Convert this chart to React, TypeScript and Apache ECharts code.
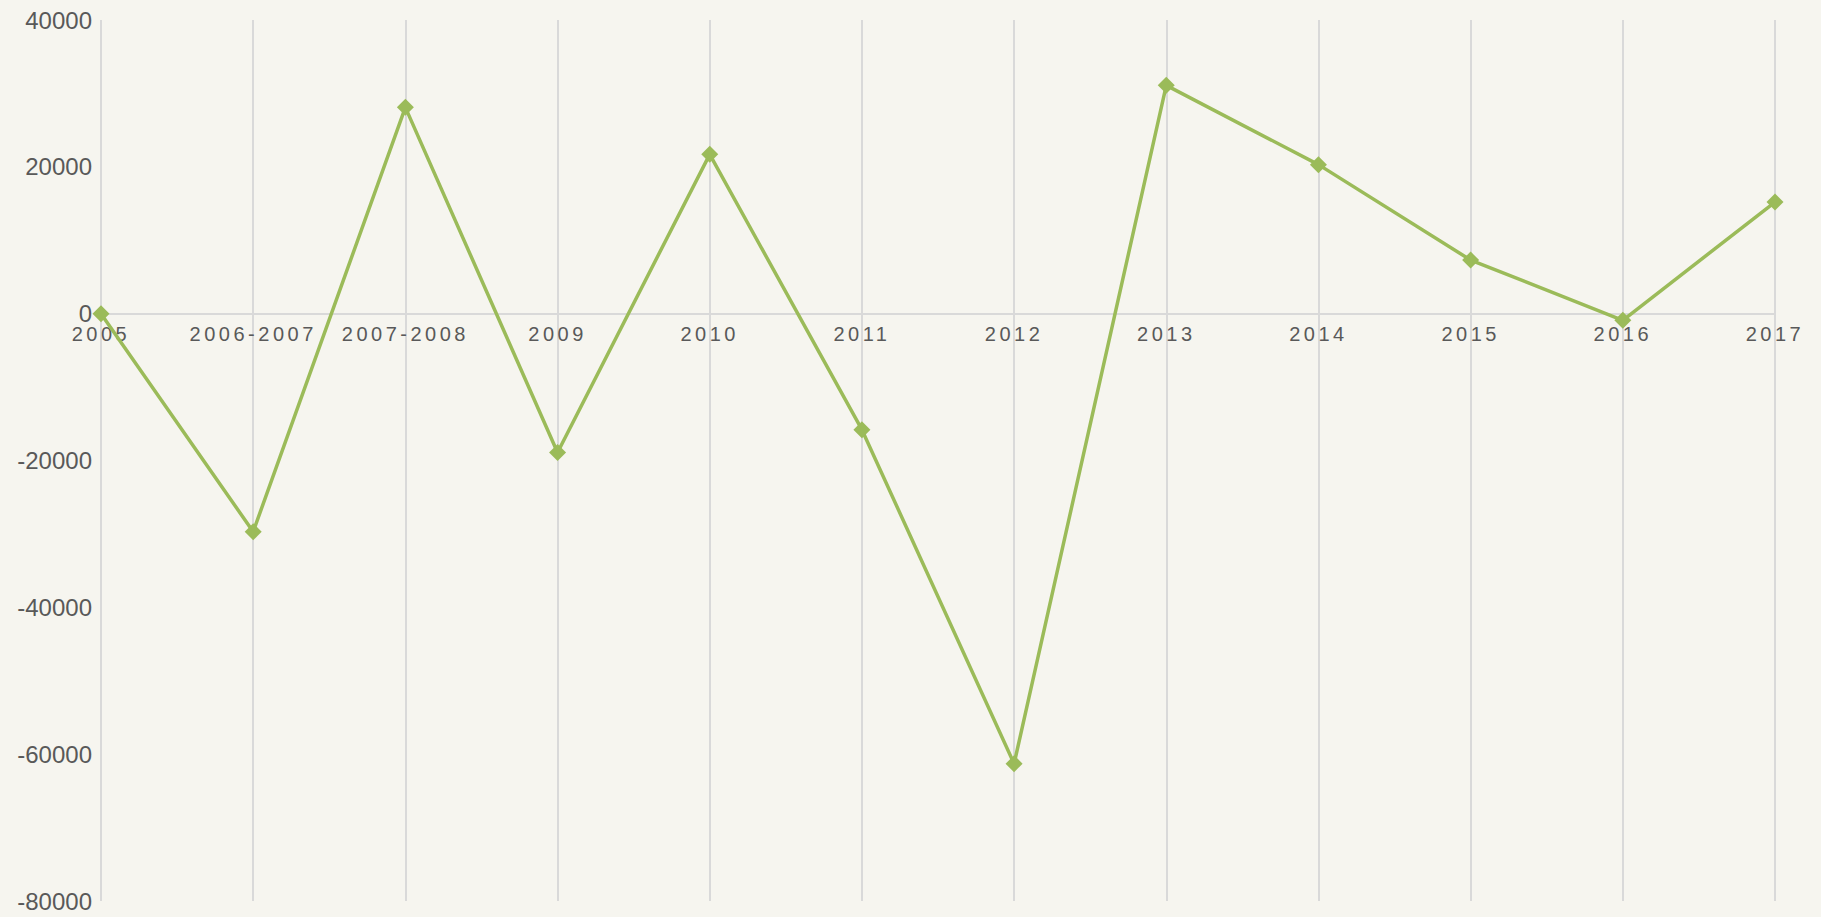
import React, { useEffect, useRef } from "react";
import * as echarts from "echarts";

const categories = ["2005", "2006-2007", "2007-2008", "2009", "2010", "2011", "2012", "2013", "2014", "2015", "2016", "2017"];
const values = [0, -29700, 28100, -18900, 21700, -15800, -61300, 31100, 20300, 7300, -900, 15200];
const yMin = -80000;
const yMax = 40000;
const yInterval = 20000;

export default function App() {
  const ref = useRef<HTMLDivElement>(null);
  useEffect(() => {
    if (!ref.current) return;
    const chart = echarts.init(ref.current, undefined, { renderer: "svg" });
    const top = 20;
    const bottom = 16;
    const plotH = 917 - top - bottom;
    const zeroOffset = -((0 - yMin) / (yMax - yMin)) * plotH;
    chart.setOption({
      animation: false,
      backgroundColor: "#f6f5ef",
      grid: { left: 101, right: 46, top, bottom, containLabel: false },
      xAxis: {
        type: "category",
        data: categories,
        boundaryGap: false,
        position: "bottom",
        offset: zeroOffset,
        axisLine: { show: true, onZero: false, lineStyle: { color: "#d9d9d9", width: 2 } },
        axisTick: { show: false },
        axisLabel: {
          color: "#595959",
          fontFamily: "Liberation Sans, Arial, sans-serif",
          fontSize: 20,
          margin: 10,
          interval: 0,
        },
        splitLine: { show: true, lineStyle: { color: "#d9d9d9", width: 2 } },
      },
      yAxis: {
        type: "value",
        min: yMin,
        max: yMax,
        interval: yInterval,
        axisLine: { show: false },
        axisTick: { show: false },
        splitLine: { show: false },
        axisLabel: {
          color: "#595959",
          fontFamily: "Liberation Sans, Arial, sans-serif",
          fontSize: 24,
          margin: 9,
          formatter: (v: number) => String(v),
        },
      },
      series: [
        {
          type: "line",
          data: values,
          symbol: "diamond",
          symbolSize: 17,
          itemStyle: { color: "#9bbb59" },
          lineStyle: { color: "#9bbb59", width: 3.5 },
        },
      ],
    });
    const dom = ref.current;
    dom.querySelectorAll("text").forEach((t) => {
      if (categories.includes((t.textContent || "").trim())) {
        t.setAttribute("letter-spacing", "3.5");
      }
    });
    return () => chart.dispose();
  }, []);
  return <div ref={ref} style={{ width: 1821, height: 917, position: "absolute", left: 0, top: 0 }} />;
}
